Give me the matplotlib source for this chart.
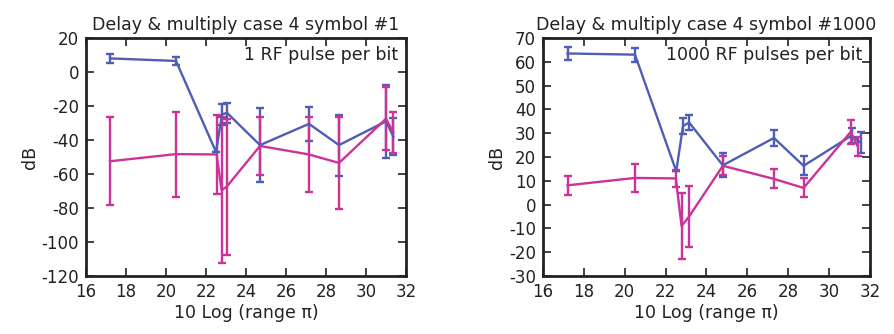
import matplotlib
matplotlib.use("Agg")
import matplotlib.pyplot as plt

# symbol #1 (1 RF pulse per bit)
x1 = [17.2, 20.5, 22.5, 22.8, 23.05, 24.7, 27.15, 28.65, 31.0, 31.37]
blue1 = [8, 6.5, -47, -25, -24, -43, -30.5, -43, -29, -38]
blue1_err = [2.5, 2.2, 0, 6, 6, 21.7, 10, 18, 21.5, 11]
x1p = [17.2, 20.5, 22.53, 22.78, 23.03, 24.7, 27.15, 28.65, 31.0, 31.37]
pink1 = [-52.5, -48.3, -48.5, -69.5, -67.5, -43.5, -48.5, -53.5, -27.5, -35.6]
pink1_err = [26, 25, 23, 43, 40, 17, 22, 27, 18.5, 12]

# symbol #1000 (1000 RF pulses per bit)
x2 = [17.2, 20.5, 22.52, 22.85, 23.15, 24.8, 27.3, 28.75, 31.1, 31.55]
blue2 = [63.5, 63, 14, 33, 34.5, 16.5, 28, 16.3, 29, 26]
blue2_err = [2.6, 3, 0, 3.3, 3.3, 5, 3.5, 4, 3.2, 4.5]
x2p = [17.2, 20.5, 22.5, 22.78, 23.15, 24.8, 27.3, 28.75, 31.05, 31.4]
pink2 = [8.1, 11.2, 11, -9, -5, 16.3, 10.8, 7, 30.5, 24.5]
pink2_err = [3.9, 5.8, 3.6, 14, 13, 4, 4, 4, 5, 4]

blue = '#4d5eb4'
pink = '#cc3399'

plt.rcParams['font.family'] = 'DejaVu Sans'
plt.rcParams['axes.unicode_minus'] = False

fig = plt.figure(figsize=(8.95, 3.34), dpi=100)
ax1 = fig.add_axes([86 / 895, 58 / 334, 320 / 895, 238 / 334])
ax2 = fig.add_axes([543 / 895, 58 / 334, 327 / 895, 238 / 334])


def draw(ax, xb, yb, eb, xp, yp, ep, title, note, ylim, yticks):
    ax.errorbar(xb, yb, yerr=eb, color=blue, lw=1.7, capsize=3, capthick=1.7, elinewidth=1.7)
    ax.errorbar(xp, yp, yerr=ep, color=pink, lw=1.7, capsize=3, capthick=1.7, elinewidth=1.7)
    ax.set_xlim(16, 32)
    ax.set_ylim(*ylim)
    ax.set_xticks(range(16, 33, 2))
    ax.set_yticks(yticks)
    ax.tick_params(direction='in', length=6, width=1.2, top=True, right=True,
                   labelsize=12, colors='#222222', pad=5)
    for s in ax.spines.values():
        s.set_linewidth(2)
        s.set_color('#222222')
    ax.set_title(title, fontsize=12.5, color='#222222', pad=6)
    ax.set_xlabel('10 Log (range π)', fontsize=12.5, color='#222222', labelpad=2)
    ax.set_ylabel('dB', fontsize=12.5, color='#222222', labelpad=2)
    ax.text(0.975, 0.93, note, transform=ax.transAxes, ha='right', va='center',
            fontsize=12.5, color='#222222')


draw(ax1, x1, blue1, blue1_err, x1p, pink1, pink1_err,
     'Delay & multiply case 4 symbol #1', '1 RF pulse per bit',
     (-120, 20), range(-120, 21, 20))
draw(ax2, x2, blue2, blue2_err, x2p, pink2, pink2_err,
     'Delay & multiply case 4 symbol #1000', '1000 RF pulses per bit',
     (-30, 70), range(-30, 71, 10))

fig.savefig('out.png', dpi=100)
